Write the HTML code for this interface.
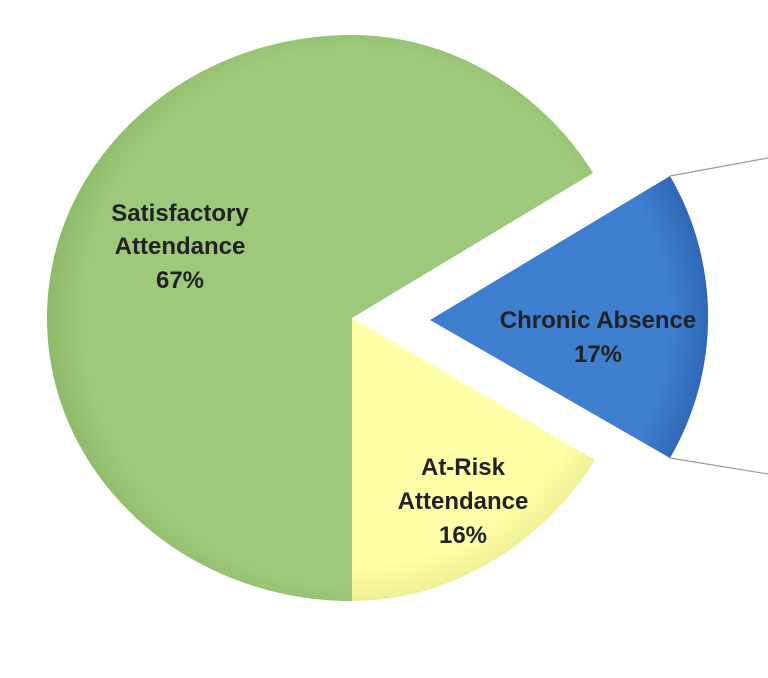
<!DOCTYPE html>
<html><head><meta charset="utf-8"><style>html,body{margin:0;padding:0;background:#fff;}svg{display:block}</style></head>
<body>
<svg width="768" height="678" viewBox="0 0 768 678" xmlns="http://www.w3.org/2000/svg">
<defs>
<radialGradient id="g" cx="352" cy="318" r="305" gradientUnits="userSpaceOnUse"><stop offset="0.88" stop-color="#9ec97b"/><stop offset="1" stop-color="#8dba68"/></radialGradient>
<radialGradient id="y" cx="352" cy="318" r="290" gradientUnits="userSpaceOnUse"><stop offset="0.85" stop-color="#ffffa8"/><stop offset="1" stop-color="#ecec90"/></radialGradient>
<radialGradient id="b" cx="430" cy="320" r="280" gradientUnits="userSpaceOnUse"><stop offset="0.85" stop-color="#3f7fd0"/><stop offset="1" stop-color="#2f68b5"/></radialGradient>
</defs>
<line x1="670" y1="176" x2="768" y2="158" stroke="#999" stroke-width="1.2"/>
<line x1="670" y1="458" x2="768" y2="474" stroke="#999" stroke-width="1.2"/>
<path d="M352,318 L593,173 C545,95 455,35 352,35 C183.5,35 47,161.7 47,318 C47,474.3 183.5,601 352,601 Z" fill="url(#g)"/>
<path d="M352,318 L352,601 C455,601 545,540 595,460 Z" fill="url(#y)"/>
<path d="M430,320 L670,176 A280,280 0 0 1 670,458 Z" fill="url(#b)"/>
<g font-family="Liberation Sans, sans-serif" font-size="24" fill="#222" text-anchor="middle" font-weight="bold">
<text x="180" y="221">Satisfactory</text>
<text x="180" y="254">Attendance</text>
<text x="180" y="288">67%</text>
<text x="463" y="475">At-Risk</text>
<text x="463" y="509">Attendance</text>
<text x="463" y="543">16%</text>
<text x="598" y="328">Chronic Absence</text>
<text x="598" y="362">17%</text>
</g>
</svg>
</body></html>
